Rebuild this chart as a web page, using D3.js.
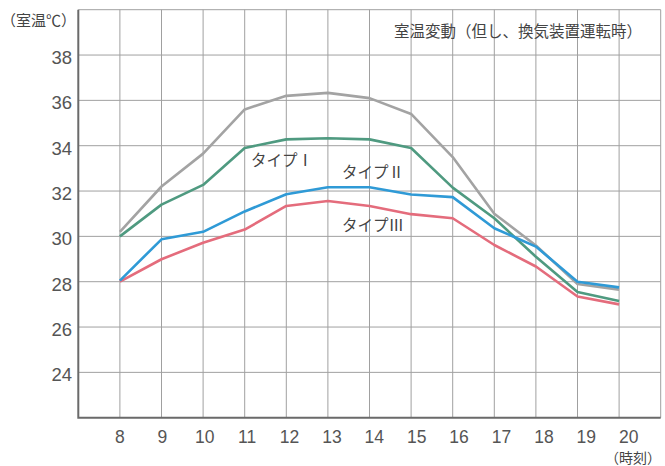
<!DOCTYPE html>
<html>
<head>
<meta charset="utf-8">
<script src="https://cdn.jsdelivr.net/npm/d3@7"></script>
<style>
  body { margin: 0; background: #fff; }
  svg text { font-family: "Noto Sans CJK JP", "Liberation Sans", sans-serif; }
</style>
</head>
<body>
<script>
const hours = [8, 9, 10, 11, 12, 13, 14, 15, 16, 17, 18, 19, 20];
const yTicks = [24, 26, 28, 30, 32, 34, 36, 38];

// room temperature per hour
const grayValues  = [30.2, 32.2, 33.65, 35.6, 36.2, 36.33, 36.1, 35.4, 33.5, 31.0, 29.6, 27.9, 27.65];
const type1Values = [30.0, 31.4, 32.27, 33.9, 34.28, 34.33, 34.28, 33.9, 32.15, 30.8, 29.1, 27.55, 27.15];
const type2Values = [28.05, 29.87, 30.2, 31.1, 31.86, 32.17, 32.17, 31.85, 31.73, 30.36, 29.55, 28.0, 27.75];
const type3Values = [28.0, 28.99, 29.72, 30.3, 31.34, 31.56, 31.34, 30.98, 30.8, 29.62, 28.67, 27.35, 27.0];

const width = 665, height = 466;

const x = d3.scaleLinear().domain([7, 21]).range([78.3, 660.7]);
const y = d3.scaleLinear().domain([22, 40]).range([417.7, 9.7]);

const svg = d3.select('body').append('svg')
  .attr('width', width)
  .attr('height', height);

// grid
svg.append('g')
  .selectAll('line')
  .data(yTicks.concat([40]))
  .join('line')
  .attr('x1', x(7)).attr('x2', x(21))
  .attr('y1', d => y(d)).attr('y2', d => y(d))
  .attr('stroke', '#a0a0a0').attr('stroke-width', 1);

svg.append('g')
  .selectAll('line')
  .data(hours.concat([21]))
  .join('line')
  .attr('x1', d => x(d)).attr('x2', d => x(d))
  .attr('y1', y(40)).attr('y2', y(22))
  .attr('stroke', '#a0a0a0').attr('stroke-width', 1);

// axes lines
svg.append('path')
  .attr('d', `M${x(7)},${y(40)}V${y(22)}H${x(21)}`)
  .attr('fill', 'none')
  .attr('stroke', '#6a6a6a')
  .attr('stroke-width', 2);

// tick labels
svg.append('g')
  .selectAll('text')
  .data(yTicks)
  .join('text')
  .attr('x', 72)
  .attr('y', d => y(d) + 9)
  .attr('text-anchor', 'end')
  .attr('font-size', 18.5)
  .attr('fill', '#555')
  .style('font-family', '"Liberation Sans", sans-serif')
  .text(d => d);

svg.append('g')
  .selectAll('text')
  .data(hours)
  .join('text')
  .attr('x', d => x(d) + (d - 8) * 0.8)
  .attr('y', 443)
  .attr('text-anchor', 'middle')
  .attr('font-size', 17.5)
  .attr('fill', '#555')
  .style('font-family', '"Liberation Sans", sans-serif')
  .text(d => d);

// lines
const series = [
  { values: grayValues, color: '#a3a3a3' },
  { values: type1Values, color: '#4f9a80' },
  { values: type3Values, color: '#e46c7c' },
  { values: type2Values, color: '#2f9ad6' }
];

const line = d3.line()
  .x((d, i) => x(hours[i]))
  .y(d => y(d));

svg.append('g')
  .selectAll('path')
  .data(series)
  .join('path')
  .attr('d', d => line(d.values))
  .attr('fill', 'none')
  .attr('stroke', d => d.color)
  .attr('stroke-width', 2.6)
  .attr('stroke-linejoin', 'round');

// texts
const txt = (s, tx, ty, size, anchor) => svg.append('text')
  .attr('x', tx).attr('y', ty)
  .attr('font-size', size)
  .attr('text-anchor', anchor || 'start')
  .attr('fill', '#444')
  .text(s);

txt('（室温℃）', 76, 26, 15, 'end');
txt('室温変動（但し、換気装置運転時）', 642, 37, 15.5, 'end');
txt('（時刻）', 661, 463, 14, 'end');
txt('タイプⅠ', 251, 166, 15.5);
txt('タイプⅡ', 342, 178, 15.5);
txt('タイプⅢ', 342, 231, 15.5);
</script>
</body>
</html>
